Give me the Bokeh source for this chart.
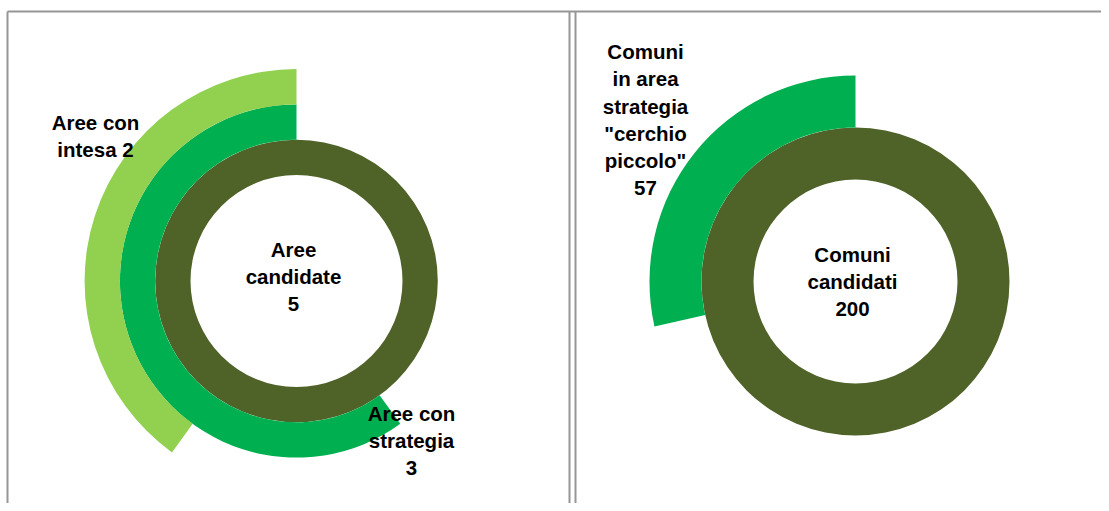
import math
from bokeh.plotting import figure
from bokeh.models import Range1d
from bokeh.core.properties import value
from bokeh.embed import file_html
from bokeh.resources import INLINE

# ---------------- data ----------------
left_names = ["Aree candidate", "Aree con strategia", "Aree con intesa"]
left_values = [5, 3, 2]
left_colors = ["#4F6228", "#00B050", "#92D050"]
left_label_text = ["Aree\ncandidate\n{}", "Aree con\nstrategia\n{}", "Aree con\nintesa {}"]

right_names = ["Comuni candidati", 'Comuni in area strategia "cerchio piccolo"']
right_values = [200, 57]
right_colors = ["#4F6228", "#00B050"]
right_label_text = ["Comuni\ncandidati\n{}", 'Comuni\nin area\nstrategia\n"cerchio\npiccolo"\n{}']

# ---------------- layout (screen pixel coordinates) ----------------
W, H = 1101, 503
FONT = "Liberation Sans"
FONT_SIZE = "20.5px"
left_center = (296, 280.5)
left_r0, left_w = 106, 35.3
left_label_pos = [(293, 249), (411, 413), (95, 122)]
right_center = (855, 281)
right_r0, right_w = 102, 52
right_label_pos = [(852, 254), (645, 51)]
PITCH = 27.3
BORDER = "#969696"

p = figure(width=W, height=H, x_range=Range1d(0, W), y_range=Range1d(-H, 0),
           output_backend="svg", toolbar_location=None, min_border=0,
           outline_line_color=None, x_axis_type=None, y_axis_type=None,
           background_fill_color="white", border_fill_color="white")

# panel frames (open at right / bottom, as in the cropped reference)
p.segment(x0=[7, 569, 575, 7], y0=[-11, -11, -11, -11],
          x1=[7, 569, 575, 2000], y1=[-2000, -2000, -2000, -11],
          line_color=BORDER, line_width=2)


def draw_rings(center, r0, width, vals, colors):
    cx, cy = center
    total = vals[0]
    for i, (v, c) in enumerate(zip(vals, colors)):
        inner = r0 + i * width
        outer = inner + width
        if v >= total:
            p.annulus(x=[cx], y=[-cy], inner_radius=inner, outer_radius=outer,
                      fill_color=c, line_color=None)
        else:
            p.annular_wedge(x=[cx], y=[-cy], inner_radius=inner, outer_radius=outer,
                            start_angle=math.pi / 2,
                            end_angle=math.pi / 2 + 2 * math.pi * v / total,
                            direction="anticlock", fill_color=c, line_color=None)


def draw_label(pos, txt):
    x, y0 = pos
    lines = txt.split("\n")
    p.text(x=[x] * len(lines), y=[-(y0 + i * PITCH) for i in range(len(lines))], text=lines,
           text_align="center", text_baseline="alphabetic", text_font=value(FONT),
           text_font_size=FONT_SIZE, text_font_style="bold", text_color="black")


draw_rings(left_center, left_r0, left_w, left_values, left_colors)
draw_rings(right_center, right_r0, right_w, right_values, right_colors)

for pos, tpl, v in zip(left_label_pos, left_label_text, left_values):
    draw_label(pos, tpl.format(v))
for pos, tpl, v in zip(right_label_pos, right_label_text, right_values):
    draw_label(pos, tpl.format(v))

open("out.html", "w").write(file_html(p, INLINE))
